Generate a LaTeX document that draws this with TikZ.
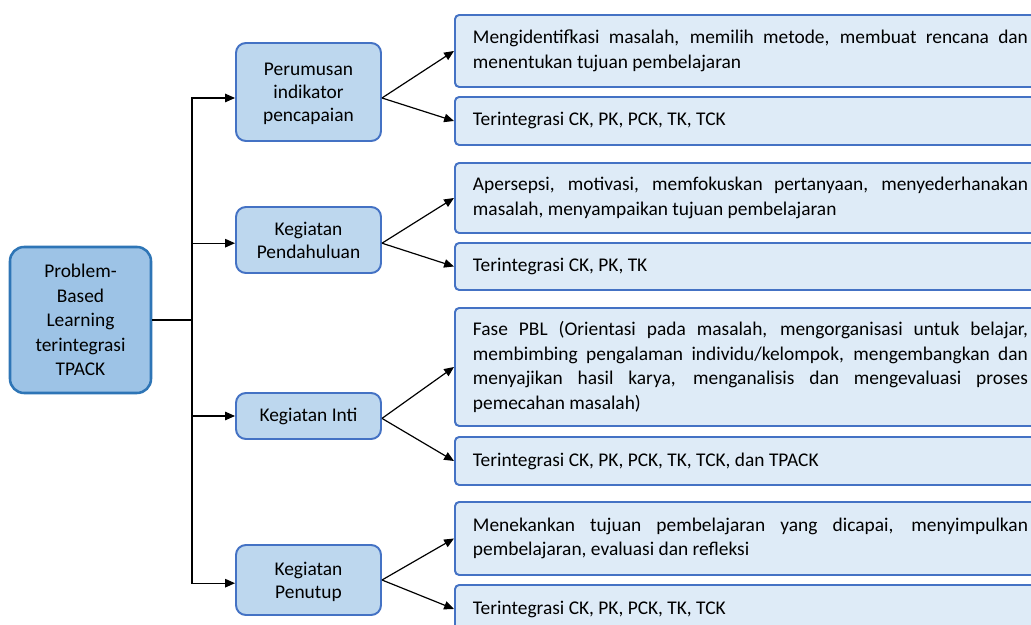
\documentclass[tikz,border=0pt]{standalone}
\usepackage{fontspec}
\setmainfont{Carlito}
\usetikzlibrary{arrows.meta}
\definecolor{pblfill}{HTML}{9DC3E6}
\definecolor{pblline}{HTML}{2E75B6}
\definecolor{kegfill}{HTML}{BDD7EE}
\definecolor{isifill}{HTML}{DEEBF7}
\definecolor{boxline}{HTML}{4472C4}
\hyphenpenalty=10000
\exhyphenpenalty=10000
\begin{document}
\begin{tikzpicture}[
  pbl/.style={draw=pblline, fill=pblfill, line width=1.8pt, rounded corners=10pt, align=center,
              minimum width=3.525cm, minimum height=3.65cm, font=\fontsize{13.8}{17.5}\selectfont},
  keg/.style={draw=boxline, fill=kegfill, line width=1.4pt, rounded corners=7pt, align=center,
              minimum width=3.625cm, font=\fontsize{13.8}{16.3}\selectfont},
  kegdrop/.style={keg, text depth=#1},
  isi/.style={draw=boxline, fill=isifill, line width=1.4pt, rounded corners=3pt, anchor=west,
              align=justify, text width=13.875cm, inner xsep=0.45cm, inner ysep=0pt,
              font=\fontsize{13.8}{17.6}\selectfont},
  arr/.style={-{Triangle[length=7pt,width=6pt]}, line width=0.85pt},
]
  \useasboundingbox (0,0) rectangle (25.775,15.625);
  \clip (0,0) rectangle (25.775,15.625);

  \node[pbl] (pbl) at (2.0125,7.625) {Problem-\\Based\\Learning\\terintegrasi\\TPACK};

  \node[kegdrop=-8pt, minimum height=2.45cm]  (per)  at (7.7125,13.325) {Perumusan\\indikator\\pencapaian};
  \node[kegdrop=-11pt, minimum height=1.65cm] (pen)  at (7.7125,9.625)  {Kegiatan\\Pendahuluan};
  \node[keg, minimum height=1.15cm]           (inti) at (7.7125,5.225)  {Kegiatan Inti};
  \node[kegdrop=-8pt, minimum height=1.75cm]  (tut)  at (7.7125,1.125)  {Kegiatan\\Penutup};

  \node[isi, minimum height=1.8cm]   (d1) at (11.35,14.35)  {Mengidentifkasi masalah, memilih metode, membuat rencana dan\linebreak menentukan tujuan pembelajaran};
  \node[isi, minimum height=1.2cm]   (d2) at (11.35,12.6)   {Terintegrasi CK, PK, PCK, TK, TCK};
  \node[isi, minimum height=1.75cm]  (d3) at (11.35,10.675) {Apersepsi, motivasi, memfokuskan pertanyaan, menyederhanakan\linebreak masalah, menyampaikan tujuan pembelajaran};
  \node[isi, minimum height=1.175cm] (d4) at (11.35,8.9625) {Terintegrasi CK, PK, TK};
  \node[isi, minimum height=2.95cm]  (d5) at (11.35,6.45)   {Fase PBL (Orientasi pada masalah, mengorganisasi untuk belajar,\linebreak membimbing pengalaman individu/kelompok, mengembangkan dan\linebreak menyajikan hasil karya, menganalisis dan mengevaluasi proses\linebreak pemecahan masalah)};
  \node[isi, minimum height=1.2cm]   (d6) at (11.35,4.1)    {Terintegrasi CK, PK, PCK, TK, TCK, dan TPACK};
  \node[isi, minimum height=1.825cm] (d7) at (11.35,2.1625) {Menekankan tujuan pembelajaran yang dicapai, menyimpulkan\linebreak pembelajaran, evaluasi dan refleksi};
  \node[isi, minimum height=1.2cm]   (d8) at (11.35,0.4)    {Terintegrasi CK, PK, PCK, TK, TCK};

  % trunk from the main box
  \coordinate (tr) at (4.8,7.625);
  \draw[line width=0.85pt] (pbl.east) -- (tr);
  \draw[arr] (tr) |- ([yshift=-0.15cm]per.west);
  \draw[arr] (tr) |- ([yshift=-0.08cm]pen.west);
  \draw[arr] (tr) |- (inti.west);
  \draw[arr] (tr) |- ([yshift=-0.08cm]tut.west);

  \draw[arr] ([yshift=-0.15cm]per.east) -- (d1.west);
  \draw[arr] ([yshift=-0.15cm]per.east) -- (d2.west);
  \draw[arr] ([yshift=-0.08cm]pen.east) -- (d3.west);
  \draw[arr] ([yshift=-0.08cm]pen.east) -- (d4.west);
  \draw[arr] ([yshift=-0.06cm]inti.east) -- (d5.west);
  \draw[arr] ([yshift=-0.06cm]inti.east) -- (d6.west);
  \draw[arr] (tut.east) -- (d7.west);
  \draw[arr] (tut.east) -- (d8.west);
\end{tikzpicture}
\end{document}
